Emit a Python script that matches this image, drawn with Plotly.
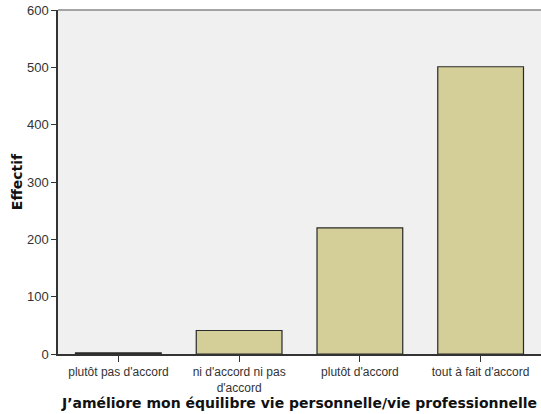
import plotly.graph_objects as go

categories = ["plutôt pas d'accord", "ni d'accord ni pas<br>d'accord", "plutôt d'accord", "tout à fait d'accord"]
counts = [2, 41, 220, 501]
y_ticks = [0, 100, 200, 300, 400, 500, 600]

fig = go.Figure()
fig.add_trace(go.Bar(
    x=categories, y=counts,
    width=0.71,
    marker=dict(color="#D4CF98", line=dict(color="#2a2a2a", width=1.2)),
    showlegend=False,
))

fig.update_layout(
    width=541, height=414,
    margin=dict(l=58, r=0, t=10, b=60, autoexpand=False),
    paper_bgcolor="white",
    plot_bgcolor="#F0F0F0",
    font=dict(family="Arial, Liberation Sans, sans-serif", color="#333333"),
    xaxis=dict(
        range=[-0.5, 3.5],
        automargin=False,
        showgrid=False,
        showline=True, linecolor="#333333", linewidth=1.5,
        ticks="outside", ticklen=6, tickcolor="#333333", tickwidth=1,
        tickfont=dict(size=12, color="#333333"),
        ticklabeloverflow="allow",
        title=dict(text="<b>J’améliore mon équilibre vie personnelle/vie professionnelle</b>",
                   font=dict(size=14, color="#111111", family="DejaVu Sans, Verdana, sans-serif"),
                   standoff=0),
        fixedrange=True,
    ),
    yaxis=dict(
        range=[0, 600],
        automargin=False,
        tickvals=y_ticks,
        showgrid=False, zeroline=False,
        showline=True, linecolor="#333333", linewidth=1.5,
        ticks="outside", ticklen=5, tickcolor="#333333", tickwidth=1,
        tickfont=dict(size=13, color="#333333"),
        ticklabeloverflow="allow",
        title=dict(text="<b>Effectif</b>",
                   font=dict(size=14, color="#111111", family="DejaVu Sans, Verdana, sans-serif"),
                   standoff=1),
        fixedrange=True,
    ),
)
fig.add_shape(type="line", xref="paper", yref="paper", x0=0, x1=1, y0=1, y1=1,
              line=dict(color="#888888", width=1.5))

fig.write_html("out.html", config={"displayModeBar": False},
               post_script="document.body.style.margin='0';")
